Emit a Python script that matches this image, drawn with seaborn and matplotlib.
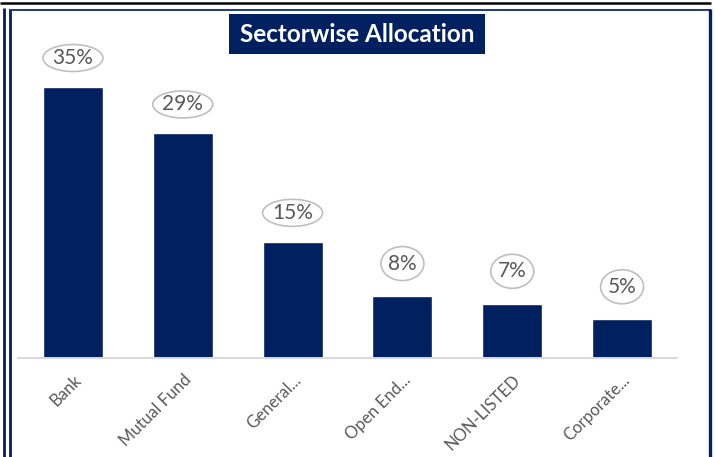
import matplotlib
matplotlib.use("Agg")
import matplotlib.pyplot as plt
import seaborn as sns
from matplotlib.patches import Ellipse, Rectangle
from matplotlib.lines import Line2D
from matplotlib.transforms import ScaledTranslation

# Allocation by sector (percent of portfolio)
sectors = ["Bank", "Mutual Fund", "General...", "Open End...", "NON-LISTED", "Corporate..."]
shares = [35, 29, 15, 8, 7, 5]
title = "Sectorwise Allocation"

NAVY = "#002060"
GREY_TEXT = "#595959"
W, H, DPI = 715, 457, 100

sns.set_style("white")
plt.rcParams["font.family"] = ["Lato", "DejaVu Sans"]

fig = plt.figure(figsize=(W / DPI, H / DPI), dpi=DPI)

# plot area in pixel terms: baseline at y=358, 7.74 px per percent
ymax = 40
base_px, px_per = 358, 7.743
top_px = base_px - ymax * px_per
ax = fig.add_axes([18 / W, 1 - base_px / H, (677 - 18) / W, (base_px - top_px) / H])

sns.barplot(x=sectors, y=shares, color=NAVY, saturation=1, width=0.545, ax=ax)
ax.set_xlim(-0.5, len(sectors) - 0.5)
ax.set_ylim(0, ymax)
ax.set_xlabel("")
ax.set_ylabel("")
ax.set_yticks([])
for s in ["top", "left", "right"]:
    ax.spines[s].set_visible(False)
ax.spines["bottom"].set_color("#d9d9d9")
ax.spines["bottom"].set_linewidth(1.4)
ax.tick_params(axis="x", length=0, pad=10)
for lab in ax.get_xticklabels():
    lab.set_rotation(45)
    lab.set_ha("right")
    lab.set_va("top")
    lab.set_rotation_mode("anchor")
    lab.set_color(GREY_TEXT)
    lab.set_fontsize(12)

# value labels in elliptical callouts above each bar
for i, v in enumerate(shares):
    txt = f"{v}%"
    if len(txt) >= 3:
        ew, eh = 60, 27
    else:
        ew, eh = 43, 34
    dy = 15.5 + eh / 2
    tr = fig.dpi_scale_trans + ScaledTranslation(i, v, ax.transData)
    ell = Ellipse((0, dy / DPI), ew / DPI, eh / DPI, transform=tr,
                  facecolor="white", edgecolor="#bfbfbf", linewidth=1.2,
                  clip_on=False, zorder=5)
    ax.add_patch(ell)
    ax.text(0, dy / DPI, txt, transform=tr, ha="center", va="center",
            fontsize=15, color=GREY_TEXT, zorder=6)

# title banner
fig.add_artist(Rectangle((229 / W, 1 - 54 / H), 256 / W, 40 / H,
                         transform=fig.transFigure, facecolor=NAVY,
                         edgecolor="none", zorder=3))
fig.text(357 / W, 1 - 34.5 / H, title, ha="center", va="center",
         color="white", fontsize=17.5, fontweight="bold", zorder=4)


def frame_line(x0, y0, x1, y1, color, lw):
    fig.add_artist(Line2D([x0 / W, x1 / W], [1 - y0 / H, 1 - y1 / H],
                          transform=fig.transFigure, color=color,
                          linewidth=lw, solid_capstyle="butt"))


# outer and inner frame borders
frame_line(0, 3, 711, 3, "black", 1.8)
frame_line(3.5, 8, 3.5, H, NAVY, 2.0)
frame_line(10, 10, 10, H, NAVY, 2.0)
frame_line(9, 10, 711, 10, "#1f3a7a", 1.4)
frame_line(709.5, 9, 709.5, H, NAVY, 2.4)

fig.savefig("out.png", dpi=DPI)
